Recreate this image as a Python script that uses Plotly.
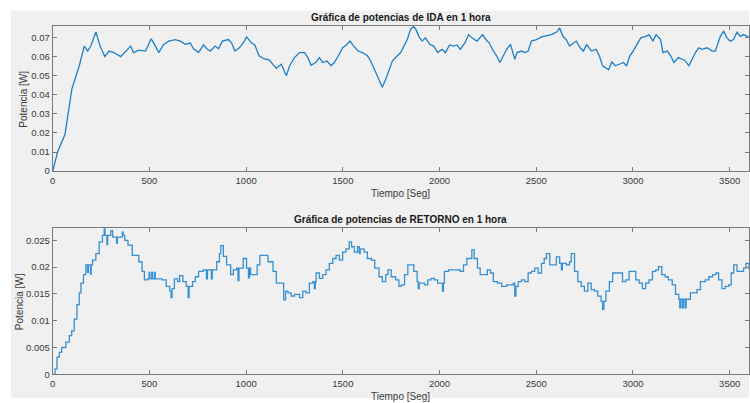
import plotly.graph_objects as go

# Potencia de IDA (W) frente al tiempo (s)
t_ida = [0, 26, 51, 63, 99, 137, 163, 180, 197, 223, 245, 269, 291, 317, 351, 377, 403, 417, 445, 480,
         509, 526, 548, 574, 600, 634, 660, 685, 711, 728, 754, 780, 797, 814, 840, 857, 877, 908, 925, 942,
         965, 985, 1002, 1028, 1045, 1067, 1091, 1119, 1156, 1182, 1208, 1225, 1250, 1276, 1302, 1319, 1336,
         1362, 1379, 1396, 1418, 1439, 1456, 1476, 1499, 1516, 1537, 1556, 1579, 1601, 1627, 1644, 1670, 1692,
         1704, 1722, 1739, 1756, 1773, 1799, 1816, 1833, 1850, 1864, 1876, 1893, 1910, 1927, 1949, 1970, 1990,
         2013, 2030, 2052, 2073, 2090, 2107, 2131, 2150, 2167, 2193, 2210, 2223, 2240, 2257, 2278, 2295, 2312,
         2329, 2347, 2367, 2378, 2389, 2401, 2424, 2441, 2458, 2475, 2501, 2527, 2553, 2578, 2604, 2621, 2638,
         2655, 2672, 2690, 2707, 2727, 2744, 2761, 2784, 2809, 2826, 2843, 2860, 2874, 2891, 2909, 2929, 2950,
         2967, 2984, 3001, 3021, 3040, 3066, 3083, 3103, 3120, 3143, 3155, 3178, 3195, 3212, 3235, 3254, 3271,
         3289, 3306, 3323, 3340, 3357, 3383, 3409, 3426, 3440, 3452, 3469, 3486, 3503, 3520, 3538, 3555, 3572,
         3588, 3600]
p_ida = [0, 0.0103, 0.0163, 0.019, 0.043, 0.055, 0.0654, 0.0628, 0.0654, 0.0728, 0.0654, 0.0599, 0.0628,
         0.062, 0.0599, 0.0628, 0.0654, 0.062, 0.0633, 0.0628, 0.0692, 0.0663, 0.062, 0.0663, 0.068, 0.0688,
         0.068, 0.0663, 0.067, 0.064, 0.062, 0.066, 0.064, 0.0628, 0.0654, 0.064, 0.068, 0.0688, 0.067, 0.0628,
         0.0645, 0.067, 0.0702, 0.067, 0.066, 0.0603, 0.0588, 0.0582, 0.0537, 0.0559, 0.0499, 0.0551, 0.0594,
         0.062, 0.062, 0.0594, 0.0554, 0.0571, 0.0594, 0.0568, 0.0576, 0.0551, 0.0568, 0.0602, 0.0645, 0.0658,
         0.068, 0.0654, 0.0628, 0.062, 0.0603, 0.0576, 0.0516, 0.0473, 0.0439, 0.0482, 0.0533, 0.0576, 0.0594,
         0.062, 0.0654, 0.0688, 0.074, 0.0757, 0.0745, 0.0705, 0.068, 0.0697, 0.0663, 0.0654, 0.062, 0.0637,
         0.062, 0.066, 0.0654, 0.066, 0.0637, 0.067, 0.0714, 0.0697, 0.068, 0.0697, 0.0714, 0.0688, 0.067,
         0.0628, 0.0603, 0.0568, 0.0603, 0.0637, 0.0663, 0.0628, 0.0585, 0.062, 0.0628, 0.062, 0.0628, 0.068,
         0.0688, 0.0702, 0.0708, 0.0714, 0.0726, 0.0749, 0.0705, 0.0688, 0.0654, 0.067, 0.068, 0.0645, 0.0628,
         0.0663, 0.0628, 0.0637, 0.0603, 0.0551, 0.0537, 0.053, 0.0571, 0.0551, 0.0559, 0.0568, 0.0551, 0.0603,
         0.0628, 0.0663, 0.0697, 0.0705, 0.0714, 0.068, 0.0714, 0.0688, 0.062, 0.0628, 0.0603, 0.0568, 0.0594,
         0.0585, 0.0576, 0.0551, 0.0585, 0.062, 0.0645, 0.0637, 0.0645, 0.0628, 0.0628, 0.067, 0.0705, 0.0731,
         0.0697, 0.068, 0.0688, 0.0726, 0.0705, 0.0714, 0.0705, 0.070]

# Potencia de RETORNO (W) frente al tiempo (s), señal escalonada
t_ret = [0, 12, 22, 34, 46, 68, 86, 98, 111, 125, 137, 146, 159, 171, 180, 184, 195, 199, 206, 223, 240,
         257, 266, 270, 280, 284, 300, 310, 317, 330, 334, 343, 360, 364, 372, 389, 411, 428, 445, 462, 474,
         490, 498, 502, 512, 516, 526, 530, 565, 587, 605, 612, 617, 629, 646, 656, 673, 690, 700, 705, 723,
         737, 754, 779, 795, 800, 820, 825, 848, 862, 869, 882, 899, 920, 934, 951, 958, 963, 985, 1002, 1012,
         1017, 1023, 1045, 1057, 1071, 1096, 1113, 1139, 1156, 1173, 1194, 1204, 1216, 1233, 1250, 1276, 1293,
         1310, 1327, 1345, 1353, 1358, 1362, 1379, 1396, 1413, 1430, 1448, 1465, 1482, 1499, 1516, 1533, 1545,
         1559, 1576, 1585, 1590, 1610, 1627, 1648, 1665, 1687, 1704, 1722, 1733, 1750, 1773, 1790, 1802, 1819,
         1836, 1853, 1867, 1884, 1890, 1895, 1922, 1939, 1956, 1973, 1990, 2008, 2015, 2020, 2025, 2047, 2065,
         2087, 2107, 2124, 2141, 2159, 2167, 2179, 2196, 2210, 2230, 2247, 2264, 2278, 2299, 2321, 2347, 2372,
         2381, 2389, 2395, 2407, 2424, 2441, 2458, 2475, 2492, 2510, 2527, 2541, 2553, 2570, 2587, 2604, 2621,
         2630, 2635, 2655, 2672, 2681, 2698, 2715, 2732, 2749, 2767, 2784, 2801, 2818, 2835, 2843, 2850, 2860,
         2878, 2895, 2929, 2946, 2963, 2980, 2997, 3015, 3032, 3049, 3066, 3083, 3101, 3118, 3132, 3149, 3166,
         3183, 3203, 3220, 3237, 3242, 3247, 3256, 3261, 3270, 3275, 3297, 3314, 3331, 3349, 3374, 3392, 3412,
         3429, 3443, 3460, 3477, 3495, 3508, 3521, 3538, 3555, 3572, 3584, 3600]
p_ret = [0, 0.001, 0.0032, 0.0041, 0.005, 0.006, 0.0072, 0.0081, 0.0103, 0.013, 0.0152, 0.017, 0.0186,
         0.0204, 0.019, 0.0204, 0.0187, 0.0204, 0.0213, 0.0225, 0.0247, 0.0259, 0.0272, 0.0259, 0.0242,
         0.0259, 0.0268, 0.0256, 0.0256, 0.0245, 0.0256, 0.0256, 0.0265, 0.0259, 0.025, 0.0241, 0.0222,
         0.0222, 0.021, 0.0192, 0.0176, 0.0178, 0.019, 0.0178, 0.019, 0.0178, 0.019, 0.0178, 0.0176, 0.0164,
         0.0155, 0.0143, 0.016, 0.0178, 0.0173, 0.0184, 0.0173, 0.0164, 0.0143, 0.0164, 0.0173, 0.0182,
         0.0192, 0.0195, 0.0178, 0.0195, 0.0178, 0.0195, 0.021, 0.0225, 0.024, 0.022, 0.0204, 0.0186, 0.0195,
         0.0198, 0.0175, 0.0198, 0.0216, 0.0198, 0.018, 0.0198, 0.0186, 0.0186, 0.0204, 0.0222, 0.0222, 0.021,
         0.0192, 0.017, 0.017, 0.0139, 0.0155, 0.0152, 0.0146, 0.0149, 0.0143, 0.0155, 0.0152, 0.017, 0.0173,
         0.016, 0.0173, 0.0189, 0.0179, 0.0186, 0.0195, 0.0207, 0.0216, 0.0222, 0.0213, 0.0228, 0.0234,
         0.0247, 0.0238, 0.0228, 0.0238, 0.0225, 0.0234, 0.0228, 0.0216, 0.0213, 0.0198, 0.0182, 0.0173,
         0.0186, 0.0195, 0.0182, 0.0176, 0.0164, 0.0167, 0.0186, 0.0204, 0.0204, 0.0192, 0.0173, 0.016, 0.017,
         0.0167, 0.0176, 0.0179, 0.0176, 0.017, 0.017, 0.0155, 0.017, 0.0192, 0.0195, 0.0195, 0.0195, 0.0192,
         0.0204, 0.0216, 0.0216, 0.0232, 0.0216, 0.0198, 0.0186, 0.0186, 0.0195, 0.0189, 0.0173, 0.017,
         0.0164, 0.0167, 0.0167, 0.017, 0.0146, 0.0164, 0.0173, 0.0176, 0.0173, 0.0189, 0.0192, 0.0198,
         0.0189, 0.0207, 0.0216, 0.0225, 0.0204, 0.0204, 0.0219, 0.0207, 0.0195, 0.0207, 0.0204, 0.021,
         0.0225, 0.0192, 0.0173, 0.0164, 0.0155, 0.017, 0.0158, 0.0155, 0.0146, 0.0136, 0.0121, 0.0136,
         0.0155, 0.0173, 0.0189, 0.0189, 0.0173, 0.0176, 0.0192, 0.0192, 0.0176, 0.017, 0.016, 0.017, 0.0176,
         0.0192, 0.0195, 0.0201, 0.0186, 0.0182, 0.0176, 0.0167, 0.0149, 0.014, 0.0124, 0.014, 0.0124, 0.014,
         0.0124, 0.014, 0.0152, 0.0152, 0.0158, 0.0173, 0.0176, 0.0182, 0.0186, 0.0189, 0.0176, 0.016, 0.0164,
         0.0167, 0.0189, 0.0204, 0.0192, 0.0192, 0.0198, 0.0207, 0.0195]

x_ticks = [0, 500, 1000, 1500, 2000, 2500, 3000, 3500]
ida_ticks = [0, 0.01, 0.02, 0.03, 0.04, 0.05, 0.06, 0.07]
ret_ticks = [0, 0.005, 0.01, 0.015, 0.02, 0.025]

W, H = 750, 403
FONT = "Liberation Sans, Arial, sans-serif"
AX_COL = "#7a7a7a"
TXT_COL = "#3a3a3a"

fig = go.Figure()
fig.add_trace(go.Scatter(x=t_ida, y=p_ida, mode="lines", xaxis="x", yaxis="y",
                         line=dict(color="#1f7fc6", width=1.3), showlegend=False))
fig.add_trace(go.Scatter(x=t_ret, y=p_ret, mode="lines", xaxis="x2", yaxis="y2",
                         line=dict(color="#3790d3", width=1.3, shape="hv"), showlegend=False))

def px_x(p):
    return p / W

def px_y(p):
    return 1 - p / H

xdom = [px_x(50), 1.0]
common_x = dict(range=[0, 3600], tickvals=x_ticks, ticks="inside", ticklen=4, tickcolor=AX_COL,
                showline=True, linecolor=AX_COL, linewidth=1, mirror="ticks", showgrid=False,
                zeroline=False, tickfont=dict(family=FONT, size=9.5, color=TXT_COL), domain=xdom)
common_y = dict(ticks="inside", ticklen=4, tickcolor=AX_COL, showline=True, linecolor=AX_COL,
                linewidth=1, mirror="ticks", showgrid=False, zeroline=False,
                tickfont=dict(family=FONT, size=9.5, color=TXT_COL))

fig.update_layout(
    width=W, height=H,
    margin=dict(l=0, r=0, t=0, b=0),
    paper_bgcolor="white", plot_bgcolor="white",
    xaxis=dict(**common_x, anchor="y"),
    yaxis=dict(**common_y, anchor="x", range=[0, 0.0757], tickvals=ida_ticks,
               domain=[px_y(173.3), px_y(26.7)]),
    xaxis2=dict(**common_x, anchor="y2"),
    yaxis2=dict(**common_y, anchor="x2", range=[0, 0.02727], tickvals=ret_ticks,
                domain=[px_y(379), px_y(231)]),
    shapes=[dict(type="rect", xref="paper", yref="paper", x0=px_x(8), x1=1.0, y0=0, y1=px_y(11),
                 fillcolor="#f0f0f0", line=dict(width=0), layer="below")],
)

title_font = dict(family=FONT, size=10, color="#1a1a1a")
label_font = dict(family=FONT, size=10, color=TXT_COL)
annots = [
    dict(text="<b>Gráfica de potencias de IDA en 1 hora</b>", x=px_x(400), y=px_y(18), font=title_font),
    dict(text="<b>Gráfica de potencias de RETORNO en 1 hora</b>", x=px_x(400), y=px_y(222), font=title_font),
    dict(text="Tiempo [Seg]", x=px_x(400), y=px_y(196), font=label_font),
    dict(text="Tiempo [Seg]", x=px_x(400), y=px_y(401), font=label_font),
    dict(text="Potencia [W]", x=px_x(21), y=px_y(100), font=label_font, textangle=-90),
    dict(text="Potencia [W]", x=px_x(16), y=px_y(305), font=label_font, textangle=-90),
]
for a in annots:
    fig.add_annotation(xref="paper", yref="paper", showarrow=False, xanchor="center", yanchor="middle", **a)

fig.write_html("out.html")
